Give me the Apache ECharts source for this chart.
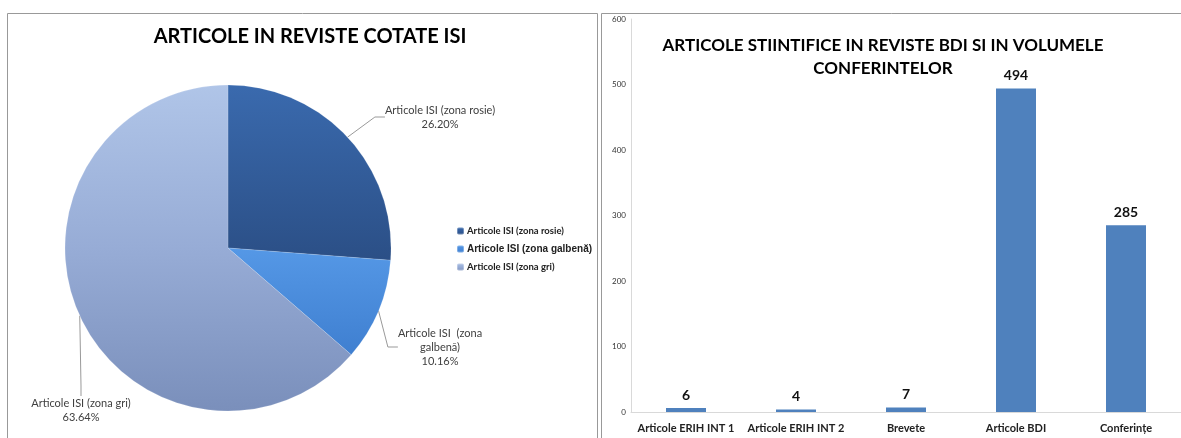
<!DOCTYPE html>
<html><head><meta charset="utf-8">
<script src="https://cdn.jsdelivr.net/npm/echarts@6/dist/echarts.min.js"></script>
<style>html,body{margin:0;padding:0;background:#fff}#c{width:1181px;height:438px}</style>
</head><body><div id="c"></div>
<script>
const pieNames = ['Articole ISI (zona rosie)', 'Articole ISI (zona galbenă)', 'Articole ISI (zona gri)'];
const pieLabels = ['Articole ISI (zona rosie)\n26.20%', 'Articole ISI  (zona\ngalbenă)\n10.16%', 'Articole ISI (zona gri)\n63.64%'];
const pieValues = [26.20, 10.16, 63.64];
const barCategories = ['Articole ERIH INT 1', 'Articole ERIH INT 2', 'Brevete', 'Articole BDI', 'Conferințe'];
const barValues = [6, 4, 7, 494, 285];
const yTicks = [0, 100, 200, 300, 400, 500, 600];

const font = 'Lato, "Liberation Sans", sans-serif';
const pieColors = [
  {type:'linear',x:0,y:0,x2:0,y2:1,colorStops:[{offset:0,color:'#3a6aae'},{offset:1,color:'#2b4f86'}]},
  {type:'linear',x:0,y:0,x2:0,y2:1,colorStops:[{offset:0,color:'#5598e6'},{offset:1,color:'#3f7fd0'}]},
  {type:'linear',x:0,y:0,x2:0,y2:1,colorStops:[{offset:0,color:'#b0c5e8'},{offset:0.5,color:'#97acd6'},{offset:1,color:'#7a8fbb'}]}
];
const labelPos = [
  {x: 440, y: 117, align: 'center'},
  {x: 440, y: 347, align: 'center'},
  {x: 81, y: 410, align: 'center'}
];

const chart = echarts.init(document.getElementById('c'));
chart.setOption({
  animation: false,
  title: [
    {text: 'ARTICOLE IN REVISTE COTATE ISI', left: 305, top: 22, textAlign: 'center',
     textStyle: {fontFamily: font, fontWeight: 'bold', fontSize: 20, color: '#000'}},
    {text: 'ARTICOLE STIINTIFICE IN REVISTE BDI SI IN VOLUMELE\nCONFERINTELOR', left: 878, top: 29, textAlign: 'center',
     textStyle: {fontFamily: font, fontWeight: 'bold', fontSize: 17, color: '#000', lineHeight: 23}}
  ],
  legend: {
    orient: 'vertical', left: 451, top: 221, itemWidth: 7, itemHeight: 7, itemGap: 8,
    data: pieNames,
    textStyle: {fontFamily: font, fontSize: 9.5, fontWeight: 'bold', color: '#222', padding: [0,0,0,-2],
      rich: {big: {fontFamily: '"Liberation Sans", Arial, sans-serif', fontSize: 10, fontWeight: 'bold', color: '#222'}}},
    formatter: n => n === pieNames[1] ? '{big|' + n + '}' : n
  },
  graphic: [
    {type: 'rect', shape: {x: 7.5, y: 13.5, width: 590, height: 430}, style: {fill: 'none', stroke: '#999', lineWidth: 1}},
    {type: 'line', shape: {x1: 601.5, y1: 13.5, x2: 1181, y2: 13.5}, style: {stroke: '#999', lineWidth: 1}},
    {type: 'line', shape: {x1: 601.5, y1: 13.5, x2: 601.5, y2: 438}, style: {stroke: '#999', lineWidth: 1}}
  ],
  grid: {left: 631, top: 19, width: 555, height: 393},
  xAxis: {
    type: 'category', data: barCategories,
    axisLine: {lineStyle: {color: '#d9d9d9'}}, axisTick: {show: false},
    axisLabel: {fontFamily: font, fontWeight: 'bold', fontSize: 11, color: '#222', margin: 11, interval: 0}
  },
  yAxis: {
    type: 'value', min: yTicks[0], max: yTicks[yTicks.length-1], interval: 100,
    axisLine: {show: true, lineStyle: {color: '#d9d9d9'}}, axisTick: {show: false},
    splitLine: {show: false},
    axisLabel: {fontFamily: font, fontSize: 8, color: '#333', margin: 5}
  },
  series: [
    {
      type: 'pie', center: [228, 248], radius: 163, startAngle: 90, clockwise: true,
      data: pieValues.map((v, i) => ({name: pieNames[i], value: v, itemStyle: {color: pieColors[i]}})),
      itemStyle: {borderColor: 'rgba(255,255,255,0.3)', borderWidth: 0.5},
      label: {
        fontFamily: font, fontSize: 11, color: '#404040', lineHeight: 14, align: 'center',
        overflow: 'none', edgeDistance: 0,
        formatter: p => pieLabels[p.dataIndex]
      },
      labelLine: {show: true, length: 10, length2: 10, smooth: false, lineStyle: {color: '#999', width: 1}},
      labelLayout: p => labelPos[p.dataIndex]
    },
    {
      type: 'bar', data: barValues, barWidth: 40, itemStyle: {color: '#4f81bd'},
      label: {show: true, position: 'top', distance: 6, fontFamily: font, fontWeight: 'bold', fontSize: 14, color: '#111'}
    }
  ]
});
</script></body></html>
